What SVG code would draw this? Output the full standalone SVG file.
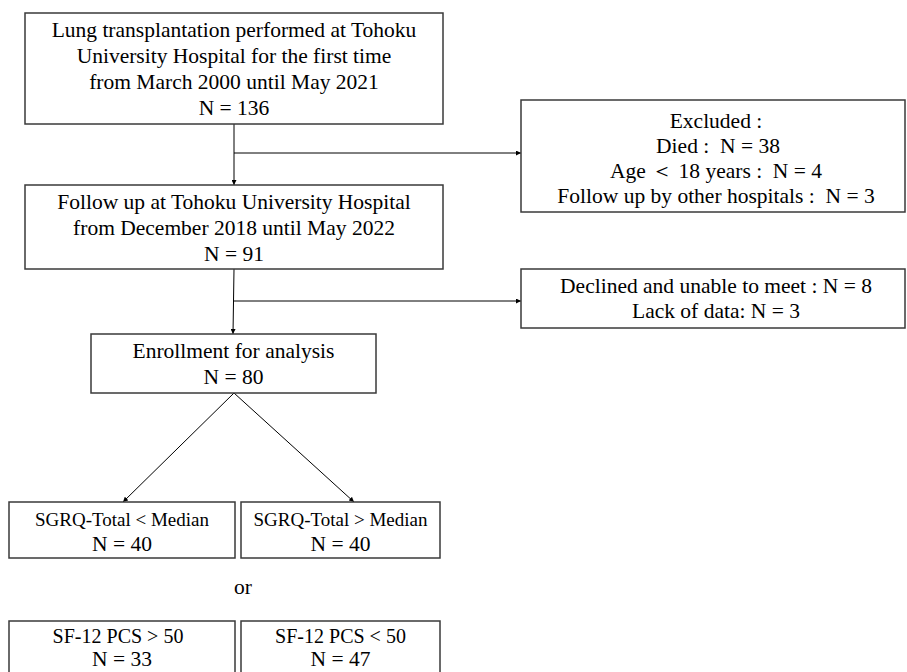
<svg xmlns="http://www.w3.org/2000/svg" width="907" height="672" viewBox="0 0 907 672">
<defs>
<marker id="ah" viewBox="0 0 10 10" refX="10" refY="5" markerWidth="5" markerHeight="5" markerUnits="userSpaceOnUse" orient="auto">
<path d="M0,0 L10,5 L0,10 z" fill="#000"/>
</marker>
</defs>
<style>
.box{fill:#fff;stroke:#3a3a3a;stroke-width:1.5}
.t{font-family:"Liberation Serif","Times New Roman",serif;font-size:21.5px;fill:#000;text-anchor:middle;white-space:pre}
.s{font-size:19px}
.f{font-size:20px}
.c{stroke:#000;stroke-width:1;fill:none;marker-end:url(#ah)}
</style>
<rect width="907" height="672" fill="#fff"/>
<g id="connectors">
<line class="c" x1="234" y1="124" x2="234" y2="185"/>
<line class="c" x1="234" y1="153" x2="521" y2="153"/>
<line class="c" x1="234" y1="269" x2="233" y2="334"/>
<line class="c" x1="234" y1="301" x2="521" y2="301"/>
<line class="c" x1="234" y1="393" x2="123" y2="502"/>
<line class="c" x1="234" y1="393" x2="354" y2="502"/>
</g>
<g id="n1">
<rect class="box" x="25" y="13" width="418" height="111"/>
<text class="t" x="234" y="37">Lung transplantation performed at Tohoku</text>
<text class="t" x="234" y="63">University Hospital for the first time</text>
<text class="t" x="234" y="89">from March 2000 until May 2021</text>
<text class="t" x="234" y="115">N = 136</text>
</g>
<g id="n2">
<rect class="box" x="25" y="185" width="418" height="84"/>
<text class="t" x="234" y="209">Follow up at Tohoku University Hospital</text>
<text class="t" x="234" y="235">from December 2018 until May 2022</text>
<text class="t" x="234" y="261">N = 91</text>
</g>
<g id="excluded">
<rect class="box" x="521" y="100" width="384" height="112"/>
<text class="t" x="716" y="128" xml:space="preserve">Excluded :</text>
<text class="t" x="718" y="153" xml:space="preserve">Died :  N = 38</text>
<text class="t" x="716" y="178" xml:space="preserve">Age ＜ 18 years :  N = 4</text>
<text class="t" x="716" y="203" xml:space="preserve">Follow up by other hospitals :  N = 3</text>
</g>
<g id="declined">
<rect class="box" x="521" y="269" width="384" height="59"/>
<text class="t" x="716" y="293">Declined and unable to meet : N = 8</text>
<text class="t" x="716" y="318">Lack of data: N = 3</text>
</g>
<g id="enroll">
<rect class="box" x="91" y="334" width="285" height="59"/>
<text class="t" x="233.5" y="358">Enrollment for analysis</text>
<text class="t" x="233.5" y="384">N = 80</text>
</g>
<g id="sgrq-low">
<rect class="box" x="9" y="502" width="226" height="56"/>
<text class="t s" x="122" y="526">SGRQ-Total &lt; Median</text>
<text class="t" x="122" y="551">N = 40</text>
</g>
<g id="sgrq-high">
<rect class="box" x="241" y="502" width="199" height="56"/>
<text class="t s" x="340.5" y="526">SGRQ-Total &gt; Median</text>
<text class="t" x="340.5" y="551">N = 40</text>
</g>
<g id="or">
<text class="t" x="243" y="594">or</text>
</g>
<g id="sf-high">
<rect class="box" x="9" y="621" width="226" height="56"/>
<text class="t f" x="118" y="643">SF-12 PCS &gt; 50</text>
<text class="t" x="122" y="666">N = 33</text>
</g>
<g id="sf-low">
<rect class="box" x="241" y="621" width="199" height="56"/>
<text class="t f" x="340.5" y="643">SF-12 PCS &lt; 50</text>
<text class="t" x="340.5" y="666">N = 47</text>
</g>
</svg>
